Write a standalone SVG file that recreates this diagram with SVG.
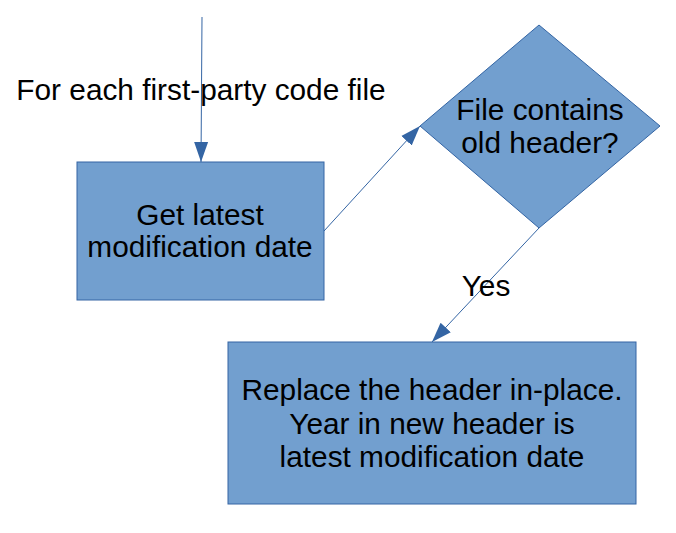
<svg xmlns="http://www.w3.org/2000/svg" width="676" height="533" viewBox="0 0 676 533">
<style>
.shape{fill:#729fcf;stroke:#3465a4;stroke-width:1}
.t{font-family:"Liberation Sans",Arial,sans-serif;font-size:29.8px;fill:#000;text-anchor:middle}
.c{stroke:#3465a4;stroke-width:1;fill:none}
</style>
<defs>
<marker id="ah" viewBox="0 0 20 20" refX="20" refY="10" markerWidth="20" markerHeight="20" markerUnits="userSpaceOnUse" orient="auto">
<path d="M0,3 L20,10 L0,17 Z" fill="#3465a4"/>
</marker>
</defs>
<rect width="676" height="533" fill="#fff"/>
<g id="connectors">
<line class="c" x1="202" y1="17" x2="201" y2="162" marker-end="url(#ah)"/>
<line class="c" x1="324" y1="231" x2="420" y2="126" marker-end="url(#ah)"/>
<line class="c" x1="539" y1="228" x2="432" y2="342" marker-end="url(#ah)"/>
<text class="t" x="201" y="100">For each first-party code file</text>
<text class="t" x="486" y="296">Yes</text>
</g>
<g id="n1">
<rect class="shape" x="77" y="162" width="247" height="138"/>
<text class="t" x="200" y="225">Get latest</text>
<text class="t" x="200" y="257">modification date</text>
</g>
<g id="n2">
<polygon class="shape" points="539,25 660,126 539,228 420,126"/>
<text class="t" x="540" y="120">File contains</text>
<text class="t" x="540" y="153">old header?</text>
</g>
<g id="n3">
<rect class="shape" x="228" y="342" width="408" height="162"/>
<text class="t" x="432" y="400">Replace the header in-place.</text>
<text class="t" x="432" y="434">Year in new header is</text>
<text class="t" x="432" y="467">latest modification date</text>
</g>
</svg>
